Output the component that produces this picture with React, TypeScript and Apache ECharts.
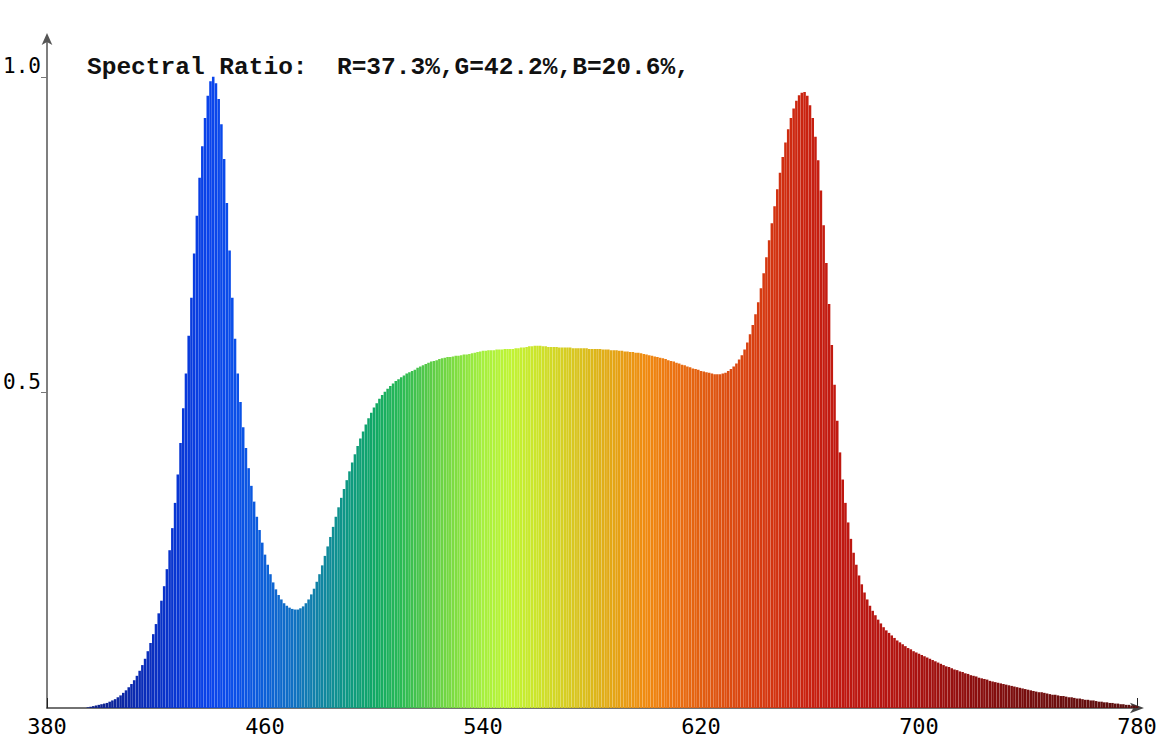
import React, { useEffect, useRef } from "react";
import * as echarts from "echarts";

// ---- data ----
const WL_START = 380; // nm, first sample; one sample per nm
const intensity: number[] = [
  // 380-389
  0, 0, 0, 0, 0, 0, 0, 0, 0, 0,
  // 390-399
  0, 0, 0, 0, 0, 0.001, 0.002, 0.003, 0.004, 0.005,
  // 400-409
  0.006, 0.007, 0.008, 0.01, 0.012, 0.014, 0.017, 0.02, 0.024, 0.028,
  // 410-419
  0.033, 0.038, 0.044, 0.051, 0.059, 0.068, 0.078, 0.09, 0.103, 0.117,
  // 420-429
  0.133, 0.15, 0.17, 0.193, 0.22, 0.25, 0.285, 0.325, 0.37, 0.42,
  // 430-439
  0.475, 0.53, 0.59, 0.65, 0.72, 0.78, 0.84, 0.89, 0.935, 0.97,
  // 440-449
  0.993, 1.0, 0.99, 0.965, 0.925, 0.87, 0.8, 0.725, 0.65, 0.585,
  // 450-459
  0.53, 0.485, 0.445, 0.412, 0.38, 0.352, 0.327, 0.303, 0.282, 0.262,
  // 460-469
  0.243, 0.227, 0.212, 0.199, 0.188, 0.179, 0.172, 0.166, 0.162, 0.159,
  // 470-479
  0.157, 0.156, 0.156, 0.158, 0.161, 0.166, 0.172, 0.18, 0.189, 0.2,
  // 480-489
  0.212, 0.226, 0.241, 0.256, 0.271, 0.287, 0.303, 0.318, 0.333, 0.347,
  // 490-499
  0.361, 0.375, 0.389, 0.402, 0.415, 0.427, 0.438, 0.449, 0.459, 0.468,
  // 500-509
  0.476, 0.483, 0.49, 0.496, 0.501, 0.506, 0.51, 0.514, 0.518, 0.521,
  // 510-519
  0.524, 0.527, 0.53, 0.532, 0.534, 0.536, 0.539, 0.541, 0.543, 0.545,
  // 520-529
  0.547, 0.549, 0.55, 0.551, 0.553, 0.554, 0.555, 0.556, 0.556, 0.557,
  // 530-539
  0.558, 0.558, 0.559, 0.56, 0.56, 0.561, 0.562, 0.563, 0.564, 0.565,
  // 540-549
  0.566, 0.566, 0.567, 0.567, 0.567, 0.568, 0.568, 0.568, 0.569, 0.569,
  // 550-559
  0.569, 0.569, 0.57, 0.57, 0.571, 0.571, 0.572, 0.573, 0.573, 0.574,
  // 560-569
  0.574, 0.574, 0.573, 0.573, 0.572, 0.572, 0.572, 0.572, 0.571, 0.571,
  // 570-579
  0.571, 0.571, 0.571, 0.57, 0.57, 0.57, 0.57, 0.57, 0.57, 0.569,
  // 580-589
  0.569, 0.569, 0.569, 0.569, 0.568, 0.568, 0.568, 0.567, 0.567, 0.567,
  // 590-599
  0.566, 0.566, 0.565, 0.565, 0.564, 0.564, 0.563, 0.563, 0.562, 0.561,
  // 600-609
  0.56, 0.559, 0.558, 0.557, 0.556, 0.555, 0.554, 0.553, 0.551, 0.55,
  // 610-619
  0.549, 0.547, 0.546, 0.544, 0.543, 0.541, 0.54, 0.538, 0.537, 0.536,
  // 620-629
  0.534, 0.533, 0.532, 0.531, 0.53, 0.529, 0.529, 0.529, 0.53, 0.531,
  // 630-639
  0.534, 0.537, 0.541, 0.546, 0.552, 0.559, 0.568, 0.579, 0.592, 0.607,
  // 640-649
  0.624, 0.643, 0.665, 0.689, 0.714, 0.741, 0.768, 0.795, 0.822, 0.848,
  // 650-659
  0.873, 0.896, 0.917, 0.935, 0.95, 0.962, 0.971, 0.975, 0.976, 0.97,
  // 660-669
  0.955, 0.935, 0.905, 0.868, 0.82, 0.765, 0.705, 0.64, 0.575, 0.512,
  // 670-679
  0.455, 0.405, 0.362, 0.325, 0.294, 0.268, 0.246, 0.227, 0.21, 0.196,
  // 680-689
  0.183, 0.172, 0.162, 0.154, 0.147, 0.14, 0.134, 0.128, 0.123, 0.119,
  // 690-699
  0.115, 0.111, 0.107, 0.104, 0.101, 0.098, 0.095, 0.093, 0.09, 0.088,
  // 700-709
  0.086, 0.084, 0.082, 0.08, 0.078, 0.076, 0.074, 0.072, 0.07, 0.068,
  // 710-719
  0.066, 0.065, 0.063, 0.061, 0.06, 0.058, 0.057, 0.055, 0.054, 0.052,
  // 720-729
  0.051, 0.05, 0.048, 0.047, 0.046, 0.045, 0.043, 0.042, 0.041, 0.04,
  // 730-739
  0.039, 0.038, 0.037, 0.036, 0.035, 0.034, 0.033, 0.032, 0.031, 0.03,
  // 740-749
  0.029, 0.028, 0.027, 0.026, 0.025, 0.025, 0.024, 0.023, 0.022, 0.021,
  // 750-759
  0.021, 0.02, 0.019, 0.019, 0.018, 0.017, 0.017, 0.016, 0.015, 0.015,
  // 760-769
  0.014, 0.013, 0.013, 0.012, 0.012, 0.011, 0.01, 0.01, 0.009, 0.009,
  // 770-780
  0.008, 0.008, 0.007, 0.007, 0.006, 0.006, 0.005, 0.005, 0.004, 0.004, 0.003,
];
const wavelengths: number[] = intensity.map((_, i) => WL_START + i);
const xTicks = [380, 460, 540, 620, 700, 780];
const yTicks = [0.5, 1.0];
const TITLE = "Spectral Ratio:  R=37.3%,G=42.2%,B=20.6%,";

// ---- style: colour ramp along wavelength ----
const colorStops: [number, string][] = [
  [380, "#0b1a6e"], [400, "#0d2290"], [415, "#0a2cb8"], [430, "#0838d8"],
  [440, "#0a44ec"], [450, "#0a50e8"], [460, "#0c60d8"], [470, "#1070c4"],
  [480, "#1084a4"], [490, "#0e9884"], [500, "#10a866"], [510, "#2aba54"],
  [520, "#58ca48"], [530, "#80de40"], [540, "#a6f03e"], [550, "#c0f434"],
  [560, "#cce42a"], [570, "#d6ce22"], [580, "#dcb81a"], [590, "#e6a014"],
  [600, "#f08a10"], [610, "#ec7210"], [620, "#e25e10"], [630, "#dc4c10"],
  [640, "#d83e10"], [650, "#d02e10"], [660, "#c82010"], [670, "#c01810"],
  [690, "#b41410"], [700, "#a81210"], [720, "#8c0e0e"], [740, "#760e0e"],
  [760, "#660e0e"], [780, "#581010"],
];

function hexToRgb(h: string): number[] {
  return [1, 3, 5].map((i) => parseInt(h.slice(i, i + 2), 16));
}
function colorAt(nm: number): string {
  for (let i = 0; i < colorStops.length - 1; i++) {
    const [a, ca] = colorStops[i];
    const [b, cb] = colorStops[i + 1];
    if (nm >= a && nm <= b) {
      const t = (nm - a) / (b - a);
      const A = hexToRgb(ca);
      const B = hexToRgb(cb);
      const c = A.map((v, k) => Math.round(v + (B[k] - v) * t));
      return `rgb(${c[0]},${c[1]},${c[2]})`;
    }
  }
  return colorStops[colorStops.length - 1][1];
}

const LABEL_FONT = "'DejaVu Sans Mono', monospace";

export default function App() {
  const ref = useRef<HTMLDivElement>(null);
  useEffect(() => {
    if (!ref.current) return;
    const chart = echarts.init(ref.current, undefined, { renderer: "svg" });
    chart.setOption({
      animation: false,
      backgroundColor: "#ffffff",
      title: {
        text: TITLE,
        left: 87,
        top: 55,
        padding: 0,
        textStyle: {
          fontFamily: "'Liberation Mono', 'Courier New', monospace",
          fontWeight: "bold",
          fontSize: 24.5,
          color: "#111",
        },
      },
      grid: {
        left: 47,
        right: 32,
        top: 39,
        bottom: 31,
        containLabel: false,
        outerBoundsMode: "none",
      },
      xAxis: {
        type: "value",
        min: 380,
        max: 780,
        interval: 80,
        axisLine: {
          show: true,
          lineStyle: { color: "#444", width: 1.5 },
          symbol: ["none", "arrow"],
          symbolSize: [8, 14],
          symbolOffset: [0, 7],
        },
        axisTick: { show: true, inside: true, length: 10, lineStyle: { color: "#222" }, customValues: xTicks },
        axisLabel: {
          customValues: xTicks,
          fontFamily: LABEL_FONT,
          fontSize: 22,
          color: "#000",
          margin: 7,
        },
        splitLine: { show: false },
      },
      yAxis: {
        type: "value",
        min: 0,
        max: 1.06,
        interval: 0.5,
        axisLine: {
          show: true,
          lineStyle: { color: "#555", width: 1.5 },
          symbol: ["none", "arrow"],
          symbolSize: [8, 12],
          symbolOffset: [0, 6],
        },
        axisTick: { show: true, inside: false, length: 6, lineStyle: { color: "#777" }, customValues: yTicks },
        axisLabel: {
          customValues: yTicks,
          formatter: (v: number) => v.toFixed(1),
          fontFamily: LABEL_FONT,
          fontSize: 21,
          color: "#000",
          margin: 6,
          verticalAlign: "bottom",
        },
        splitLine: { show: false },
      },
      series: [
        {
          type: "bar",
          barWidth: 2.55,
          silent: true,
          z: 3,
          data: wavelengths.map((nm, i) => ({
            value: [nm, intensity[i]],
            itemStyle: { color: colorAt(nm) },
          })),
        },
      ],
    });
    return () => chart.dispose();
  }, []);
  return (
    <div
      ref={ref}
      style={{ position: "fixed", left: 0, top: 0, width: 1169, height: 739, background: "#fff" }}
    />
  );
}
